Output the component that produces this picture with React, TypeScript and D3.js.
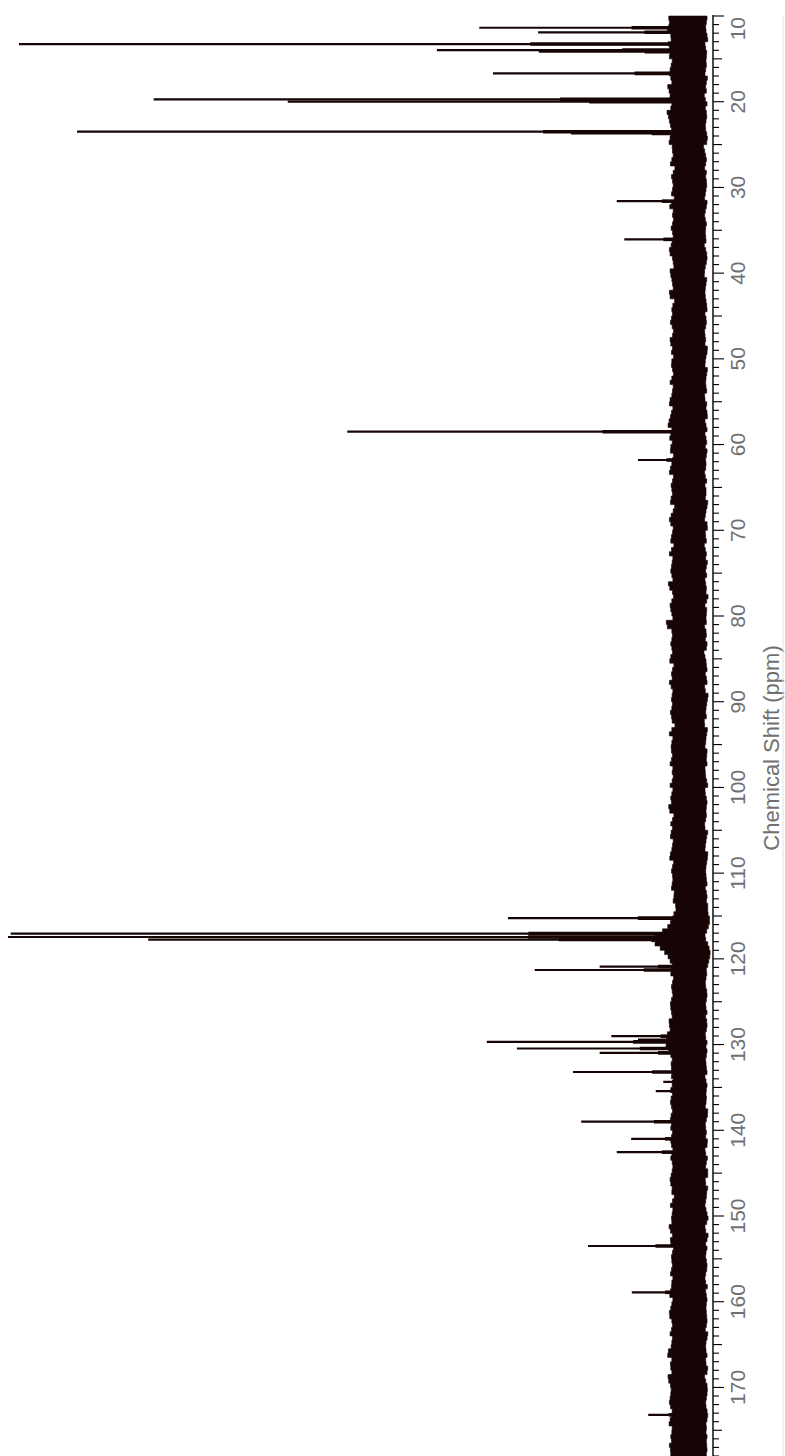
import React from 'react';
import * as d3 from 'd3';

const W = 785;
const H = 1456;

// Peak positions (ppm) and heights (arbitrary units, 1000 = tallest)
const peakPpm = [11.37, 11.9, 13.27, 13.97, 14.17, 16.69, 19.72, 20.0, 23.5, 23.69,
  31.6, 36.06, 58.5, 61.8, 115.25, 117.05, 117.45, 117.75, 120.9, 121.3,
  129.02, 129.41, 129.69, 130.46, 130.97, 133.2, 134.35, 135.44, 139.0, 141.0,
  142.55, 153.5, 158.9, 173.2];
const peakHeight = [311, 225, 984, 373, 224, 291, 787, 591, 899, 177,
  110, 99, 504, 79, 269, 996, 1000, 795, 135, 230,
  118, 79, 300, 256, 135, 174, 42, 53, 162, 89,
  110, 152, 88, 64];

// Noise band envelope, sampled every 0.5 ppm from 10 ppm
const noiseStart = 10;
const noiseStep = 0.5;
const noiseHi = [
  32, 36, 30, 38, 34, 28, 33, 37, 29, 35, 31,
  27, 34, 30, 36, 26, 33, 38, 29, 35, 31,
  28, 34, 39, 30, 36, 27, 33, 29, 35, 32,
  26, 31, 24, 35, 28, 22, 33, 27, 30, 25,
  32, 28, 24, 36, 29, 26, 31, 23, 34, 27,
  30, 25, 33, 28, 38, 26, 31, 24, 29, 35,
  27, 32, 25, 30, 36, 28, 23, 33, 26, 31,
  29, 34, 24, 30, 27, 37, 25, 32, 28, 26,
  33, 27, 30, 24, 35, 29, 26, 31, 28, 36,
  30, 26, 34, 29, 38, 32, 27, 35, 30, 28,
  34, 29, 25, 32, 27, 36, 30, 24, 33, 28,
  31, 26, 35, 28, 23, 32, 29, 37, 25, 30,
  27, 33, 29, 24, 36, 30, 26, 32, 28, 34,
  25, 31, 38, 27, 30, 24, 35, 29, 33, 26,
  30, 45, 27, 32, 25, 34, 28, 31, 26, 36,
  29, 24, 33, 27, 31, 35, 26, 30, 28, 32,
  25, 34, 29, 31, 27, 23, 36, 30, 26, 33,
  28, 32, 25, 35, 29, 27, 31, 24, 34, 30,
  26, 33, 29, 31, 37, 28, 25, 32, 30, 27,
  34, 29, 26, 31, 28, 35, 30, 24, 33, 27,
  30, 26, 32, 28, 24, 29, 26, 22, 25, 28,
  30, 33, 38, 48, 60, 58, 50, 43, 37, 33,
  31, 27, 33, 29, 25, 32, 28, 30, 26, 34,
  29, 33, 27, 31, 36, 30, 34, 38, 35, 40,
  36, 32, 30, 28, 33, 27, 31, 29, 26, 32,
  30, 27, 34, 29, 31, 26, 35, 28, 32, 30,
  27, 33, 29, 31, 25, 34, 28, 30, 26, 32,
  29, 35, 27, 31, 28, 24, 33, 30, 26, 32,
  28, 31, 36, 27, 30, 33, 29, 25, 32, 28,
  31, 26, 34, 29, 27, 32, 28, 35, 30, 26,
  33, 29, 37, 28, 31, 26, 34, 30, 27, 32,
  29, 40, 31, 28, 35, 27, 32, 38, 30, 33,
  28, 34, 30, 36, 27, 31, 29, 35, 32, 26,
  33, 29, 31, 35, 28, 34, 30, 27,
];
const noiseLo = [
  -20, -24, -18, -22, -19, -25, -21, -17, -23, -20, -22,
  -19, -23, -17, -21, -24, -18, -22, -20, -16, -23,
  -21, -18, -24, -19, -22, -17, -23, -20, -25, -18,
  -16, -21, -19, -23, -17, -20, -22, -18, -24, -19,
  -22, -17, -20, -24, -18, -21, -16, -23, -19, -21,
  -18, -22, -19, -17, -23, -20, -24, -18, -21, -16,
  -20, -23, -18, -21, -17, -22, -19, -24, -20, -18,
  -23, -19, -21, -16, -22, -18, -20, -25, -19, -22,
  -17, -21, -24, -19, -22, -18, -23, -20, -17, -21,
  -22, -19, -25, -20, -18, -23, -21, -17, -24, -19,
  -20, -24, -18, -22, -19, -21, -16, -23, -20, -18,
  -23, -18, -21, -25, -19, -22, -17, -20, -24, -21,
  -18, -22, -20, -16, -23, -19, -21, -24, -18, -22,
  -21, -17, -23, -19, -22, -25, -18, -20, -23, -19,
  -22, -20, -17, -24, -18, -21, -23, -19, -16, -22,
  -19, -23, -21, -18, -24, -20, -17, -22, -25, -20,
  -23, -18, -22, -20, -16, -21, -24, -19, -22, -18,
  -20, -24, -19, -23, -21, -17, -22, -18, -25, -21,
  -17, -22, -20, -24, -18, -23, -19, -21, -16, -22,
  -24, -19, -22, -17, -21, -25, -20, -23, -18, -22,
  -19, -23, -21, -18, -24, -20, -22, -24, -22, -25,
  -26, -25, -23, -20, -18, -22, -24, -26, -27, -25,
  -24, -22, -20, -23, -18, -21, -19, -24, -20, -22,
  -18, -23, -21, -19, -24, -20, -22, -17, -23, -21,
  -20, -24, -18, -22, -19, -23, -21, -17, -24, -20,
  -22, -19, -23, -18, -21, -25, -20, -22, -17, -23,
  -19, -21, -24, -20, -18, -22, -23, -19, -21, -25,
  -21, -18, -22, -24, -19, -23, -17, -21, -20, -24,
  -23, -20, -18, -22, -25, -19, -21, -23, -18, -22,
  -20, -24, -19, -21, -17, -23, -22, -18, -24, -20,
  -22, -19, -23, -20, -24, -18, -21, -25, -19, -22,
  -18, -23, -21, -19, -22, -24, -20, -17, -23, -21,
  -24, -20, -22, -18, -23, -21, -25, -19, -22, -20,
  -21, -23, -19, -24, -20, -22, -18, -23,
];

const tickMin = 10;
const tickMax = 178;
const labelTicks = [10, 20, 30, 40, 50, 60, 70, 80, 90, 100, 110, 120, 130, 140, 150, 160, 170];
const axisTitle = 'Chemical Shift (ppm)';

const INK = '#170505';
const TEXT = '#707070';
const FONT = '"Liberation Sans", Arial, sans-serif';

export default function App() {
  const y = d3.scaleLinear().domain([10, 178]).range([16, 1456]);
  const x = d3.scaleLinear().domain([0, 1000]).range([692, 8]);
  const axisX = 713;

  const noise = noiseHi.map((hi, i) => ({ ppm: noiseStart + i * noiseStep, hi, lo: noiseLo[i] }));
  const area = d3
    .area<{ ppm: number; hi: number; lo: number }>()
    .y((d) => y(d.ppm))
    .x0((d) => x(d.lo))
    .x1((d) => x(d.hi))
    .curve(d3.curveStep);

  const ticks = d3.range(tickMin, tickMax + 1);

  return (
    <div style={{ position: 'absolute', left: 0, top: 0, width: W, height: H, background: '#fff' }}>
      <svg width={W} height={H} style={{ display: 'block' }}>
        <rect x={0} y={0} width={W} height={H} fill="#fff" />
        <path d={area(noise) || ''} fill={INK} stroke={INK} strokeWidth={0.6} />
        {peakPpm.map((p, i) => (
          <g key={i}>
            <line x1={x(0)} x2={x(peakHeight[i])} y1={y(p)} y2={y(p)} stroke={INK} strokeWidth={2.2} />
            <line
              x1={x(0)}
              x2={x(peakHeight[i] * 0.22 + 20)}
              y1={y(p)}
              y2={y(p)}
              stroke={INK}
              strokeWidth={3.6}
            />
          </g>
        ))}
        {/* axis */}
        <line x1={axisX} x2={axisX} y1={15} y2={H} stroke="#000" strokeWidth={1.4} />
        {ticks.map((t) => {
          const len = t % 10 === 0 ? 11 : t % 5 === 0 ? 9 : 6;
          return (
            <line key={t} x1={axisX} x2={axisX + len} y1={y(t)} y2={y(t)} stroke="#000" strokeWidth={1.1} />
          );
        })}
        {labelTicks.map((t) => {
          const first = t === labelTicks[0];
          const ty = first ? y(t) + 1 : y(t);
          return (
            <text
              key={t}
              transform={`translate(745,${ty}) rotate(-90)`}
              textAnchor={first ? 'end' : 'middle'}
              fontFamily={FONT}
              fontSize={21}
              fill={TEXT}
            >
              {t}
            </text>
          );
        })}
        <text
          transform={`translate(779,748) rotate(-90)`}
          textAnchor="middle"
          fontFamily={FONT}
          fontSize={22}
          fill={TEXT}
        >
          {axisTitle}
        </text>
        <line x1={783} x2={783} y1={16} y2={H} stroke="#e2e2e2" strokeWidth={1} />
      </svg>
    </div>
  );
}
